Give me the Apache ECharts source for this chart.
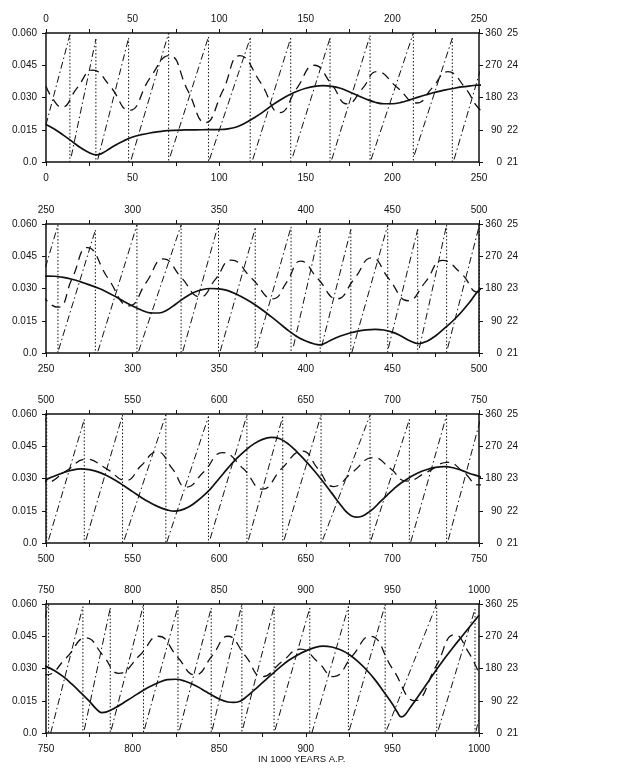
<!DOCTYPE html>
<html><head><meta charset="utf-8">
<script src="https://cdn.jsdelivr.net/npm/echarts@6/dist/echarts.min.js"></script>
<style>html,body{margin:0;padding:0;background:#fff}#c{width:636px;height:780px}</style>
</head><body><div id="c"></div>
<script>
// ---- data (time in 1000 years A.P.) ----
const panelRanges = [[0,250],[250,500],[500,750],[750,1000]];
const eccTickLabels = ['0.0','0.015','0.030','0.045','0.060'];
const precTickLabels = ['0','90','180','270','360'];
const oblTickLabels = ['21','22','23','24','25'];
const xAxisTitle = 'IN 1000 YEARS A.P.';

// eccentricity (solid line, left axis)
const eccentricity = [
[0,0.0174],[5,0.0152],[10,0.0125],[15,0.0096],[20,0.0066],[25,0.0043],[29,0.0033],[32,0.0039],[35,0.0053],[40,0.0078],[45,0.0099],[50,0.0116],[55,0.0127],[60,0.0135],[65,0.0141],[70,0.0146],[80,0.0149],[90,0.0150],[100,0.0151],[105,0.0154],[110,0.0163],[115,0.0181],[120,0.0205],[125,0.0231],[130,0.0261],[135,0.0287],[140,0.0310],[145,0.0329],[150,0.0343],[155,0.0352],[160,0.0355],[165,0.0352],[170,0.0343],[175,0.0327],[180,0.0309],[185,0.0292],[190,0.0278],[195,0.0271],[200,0.0271],[205,0.0277],[210,0.0289],[215,0.0302],[220,0.0314],[225,0.0325],[230,0.0334],[235,0.0342],[240,0.0349],[245,0.0354],
[250,0.0358],[255,0.0357],[260,0.0352],[265,0.0343],[270,0.0331],[275,0.0317],[280,0.0302],[285,0.0284],[290,0.0263],[295,0.0240],[300,0.0219],[305,0.0200],[310,0.0187],[315,0.0186],[320,0.0200],[325,0.0228],[330,0.0257],[335,0.0280],[340,0.0294],[345,0.0300],[350,0.0298],[355,0.0290],[360,0.0273],[365,0.0252],[370,0.0228],[375,0.0200],[380,0.0169],[385,0.0137],[390,0.0104],[395,0.0076],[400,0.0056],[405,0.0042],[408,0.0038],[411,0.0045],[415,0.0062],[420,0.0079],[425,0.0092],[430,0.0102],[435,0.0108],[440,0.0110],[445,0.0107],[450,0.0097],[455,0.0079],[460,0.0057],[465,0.0043],[470,0.0055],[475,0.0080],[480,0.0115],[485,0.0150],[490,0.0192],[495,0.0240],
[500,0.0292],[505,0.0312],[510,0.0327],[515,0.0339],[520,0.0345],[525,0.0341],[530,0.0331],[535,0.0314],[540,0.0292],[545,0.0266],[550,0.0239],[555,0.0212],[560,0.0188],[565,0.0168],[570,0.0154],[574,0.0148],[578,0.0153],[582,0.0166],[586,0.0187],[590,0.0213],[595,0.0252],[600,0.0300],[605,0.0348],[610,0.0392],[615,0.0430],[620,0.0461],[625,0.0482],[630,0.0491],[635,0.0485],[640,0.0460],[645,0.0423],[650,0.0381],[655,0.0335],[660,0.0285],[665,0.0232],[670,0.0178],[673,0.0148],[676,0.0128],[679,0.0120],[682,0.0123],[685,0.0136],[689,0.0160],[693,0.0192],[697,0.0223],[701,0.0253],[705,0.0279],[710,0.0305],[715,0.0327],[720,0.0342],[725,0.0352],[730,0.0355],[735,0.0350],[740,0.0338],[745,0.0322],
[750,0.0310],[755,0.0290],[760,0.0262],[765,0.0227],[770,0.0188],[775,0.0148],[779,0.0112],[782,0.0095],[785,0.0098],[790,0.0117],[795,0.0142],[800,0.0167],[805,0.0193],[810,0.0216],[815,0.0235],[820,0.0248],[825,0.0250],[830,0.0242],[835,0.0226],[840,0.0204],[845,0.0180],[850,0.0158],[855,0.0144],[858,0.0142],[862,0.0148],[866,0.0170],[870,0.0198],[875,0.0234],[880,0.0270],[885,0.0305],[890,0.0337],[895,0.0362],[900,0.0382],[905,0.0397],[910,0.0404],[915,0.0400],[920,0.0387],[925,0.0365],[930,0.0333],[935,0.0294],[940,0.0247],[945,0.0192],[950,0.0135],[953,0.0095],[955,0.0075],[957,0.0082],[960,0.0115],[965,0.0172],[970,0.0230],[975,0.0290],[980,0.0345],[985,0.0398],[990,0.0448],[995,0.0498],[1000,0.0548]
];

// obliquity in degrees (dashed line, right axis 21-25)
const obliquity = [
[0,23.35],[4,22.95],[9,22.7],[18,23.3],[27,23.85],[37,23.35],[48,22.6],[60,23.6],[71,24.3],[82,23.2],[92,22.22],[102,23.2],[112,24.3],[124,23.45],[135,22.53],[145,23.3],[155,24.0],[165,23.4],[174,22.8],[183,23.3],[191,23.8],[203,23.3],[214,22.83],[223,23.3],[232,23.8],[242,23.3],
[250,22.65],[257,22.42],[265,23.3],[274,24.27],[286,23.3],[298,22.46],[308,23.2],[318,23.92],[328,23.35],[339,22.74],[348,23.3],[357,23.88],[369,23.3],[381,22.68],[389,23.2],[397,23.85],[407,23.3],[418,22.68],[428,23.3],[438,23.95],[448,23.3],[459,22.62],[469,23.2],[479,23.87],[490,23.45],
[500,22.88],[512,23.25],[523,23.6],[535,23.3],[546,22.94],[555,23.4],[564,23.83],[573,23.3],[581,22.73],[591,23.2],[602,23.8],[614,23.3],[625,22.67],[636,23.3],[648,23.85],[657,23.3],[666,22.75],[677,23.2],[689,23.65],[699,23.3],[708,22.92],[720,23.2],[732,23.5],[741,23.2],
[750,22.8],[762,23.35],[773,23.95],[783,23.4],[792,22.85],[804,23.4],[815,24.0],[826,23.35],[836,22.8],[846,23.4],[855,24.0],[865,23.4],[875,22.75],[886,23.2],[897,23.6],[907,23.2],[916,22.75],[927,23.4],[937,24.0],[950,23.0],[963,22.0],[975,23.05],[986,24.05],[994,23.5],[1000,22.85]
];

// longitude of perihelion in degrees (dash-dot sawtooth): [tStart, vStart, tEnd, vEnd]
const precessionTeeth = [
[0,104,13.8,355],[14.6,16,28.8,343],[29.9,7,47.7,346],[49.2,7,70.8,360],[71.7,16,93.8,349],[94.4,7,117.9,346],[119.4,7,141.3,346],[142.5,16,164,346],[165,7,187.1,353],[187.7,7,212.1,360],[212.7,20,234.6,346],[235.6,7,256.9,357],
[257.3,9,278.5,343],[280,5,302.5,357],[303.5,5,328,357],[329,5,349.6,360],[350.6,5,370.8,348],[371.7,14,391.5,352],[392.9,19,408.3,348],[409.2,19,426,345],[426.5,0,447.3,357],[447.7,14,464.6,345],[465.6,14,481.3,357],[481.9,14,500.4,360],
[501.5,9,522.1,345],[523.1,9,544.2,357],[545.2,9,569.2,358],[569.8,3,593.8,353],[594.8,12,616,357],[616.9,9,636.7,353],[637.5,9,658.8,357],[659.8,9,687.1,357],[687.7,9,709.8,345],[710.6,3,731.3,357],[732.3,9,751.5,358],
[752.7,0,771.3,353],[772.1,9,787.1,349],[787.7,9,806.3,358],[806.9,11,826.2,353],[827.1,9,845.4,349],[846,9,863.1,360],[863.7,14,881.7,353],[882.3,9,902.3,349],[903.5,0,924.6,353],[925.2,9,945.8,358],[946.7,9,975.6,360],[976.5,9,997.7,346],[998.3,5,1000,42]
];

// ---- build chart ----
const gridTops = [33, 224, 414, 604];
const ink = '#111';
const font = 'Liberation Sans';

function precLine(){ const d=[]; precessionTeeth.forEach(t=>{ d.push([t[0],t[1]]); d.push([t[2],t[3]]); d.push([t[2],'-']); }); return d; }
function wrapLines(){ const d=[]; precessionTeeth.slice(0,-1).forEach(t=>{ d.push([t[2],t[3]]); d.push([t[2],0]); d.push([t[2],'-']); }); return d; }

const grids=[], xAxes=[], yAxes=[], series=[];
panelRanges.forEach((r,i)=>{
  grids.push({left:46, width:433, top:gridTops[i], height:129});
  const lbl = {interval:0, fontFamily:font, fontSize:10, color:ink, formatter:v=> (v%50===0 ? String(v) : '')};
  const xb = {type:'value', gridIndex:i, min:r[0], max:r[1], interval:25, splitLine:{show:false},
    axisLine:{show:true, onZero:false, lineStyle:{color:ink, width:1.5}},
    axisTick:{show:true, inside:false, length:4, lineStyle:{color:ink, width:1}}};
  xAxes.push(Object.assign({}, xb, {position:'bottom', axisLabel:Object.assign({}, lbl, {margin:11})}));
  xAxes.push(Object.assign({}, xb, {position:'top', axisLabel:Object.assign({}, lbl, {margin:9})}));
  yAxes.push({type:'value', gridIndex:i, position:'left', min:0, max:0.06, interval:0.015, splitLine:{show:false},
    axisLine:{show:true, onZero:false, lineStyle:{color:ink, width:1.5}},
    axisTick:{show:true, inside:false, length:4, lineStyle:{color:ink, width:1}},
    axisLabel:{fontFamily:font, fontSize:10, color:ink, margin:9, formatter:v=>eccTickLabels[Math.round(v/0.015)]}});
  yAxes.push({type:'value', gridIndex:i, position:'right', min:0, max:360, interval:90, splitLine:{show:false},
    axisLine:{show:true, onZero:false, lineStyle:{color:ink, width:1.5}},
    axisTick:{show:true, inside:false, length:4, lineStyle:{color:ink, width:1}},
    axisLabel:{fontFamily:font, fontSize:10, color:ink, margin:23, align:'right', formatter:v=>precTickLabels[Math.round(v/90)]}});
  yAxes.push({type:'value', gridIndex:i, position:'right', min:21, max:25, interval:1, splitLine:{show:false},
    axisLine:{show:false, onZero:false}, axisTick:{show:false},
    axisLabel:{fontFamily:font, fontSize:10, color:ink, margin:28, align:'left', formatter:v=>oblTickLabels[Math.round(v-21)]}});

  series.push({type:'line', xAxisIndex:2*i, yAxisIndex:3*i+1, data:wrapLines(), symbol:'none', clip:true, silent:true,
    lineStyle:{color:ink, width:1, type:[1.5,2]}, z:1});
  series.push({type:'line', xAxisIndex:2*i, yAxisIndex:3*i+1, data:precLine(), symbol:'none', clip:true, silent:true,
    lineStyle:{color:ink, width:1, type:[7,3,1.5,3]}, z:2});
  series.push({type:'line', xAxisIndex:2*i, yAxisIndex:3*i+2, data:obliquity, symbol:'none', smooth:0.5, clip:true, silent:true,
    lineStyle:{color:ink, width:1.3, type:[9,6]}, z:3});
  series.push({type:'line', xAxisIndex:2*i, yAxisIndex:3*i, data:eccentricity, symbol:'none', smooth:0.4, clip:true, silent:true,
    lineStyle:{color:ink, width:1.7}, z:4});
});

const chart = echarts.init(document.getElementById('c'), null, {renderer:'canvas'});
chart.setOption({
  animation:false, backgroundColor:'#fff',
  grid:grids, xAxis:xAxes, yAxis:yAxes, series:series,
  graphic:[{type:'text', left:258, top:754, style:{text:xAxisTitle, font:'9.5px "Liberation Sans"', fill:ink}}]
});
</script></body></html>
